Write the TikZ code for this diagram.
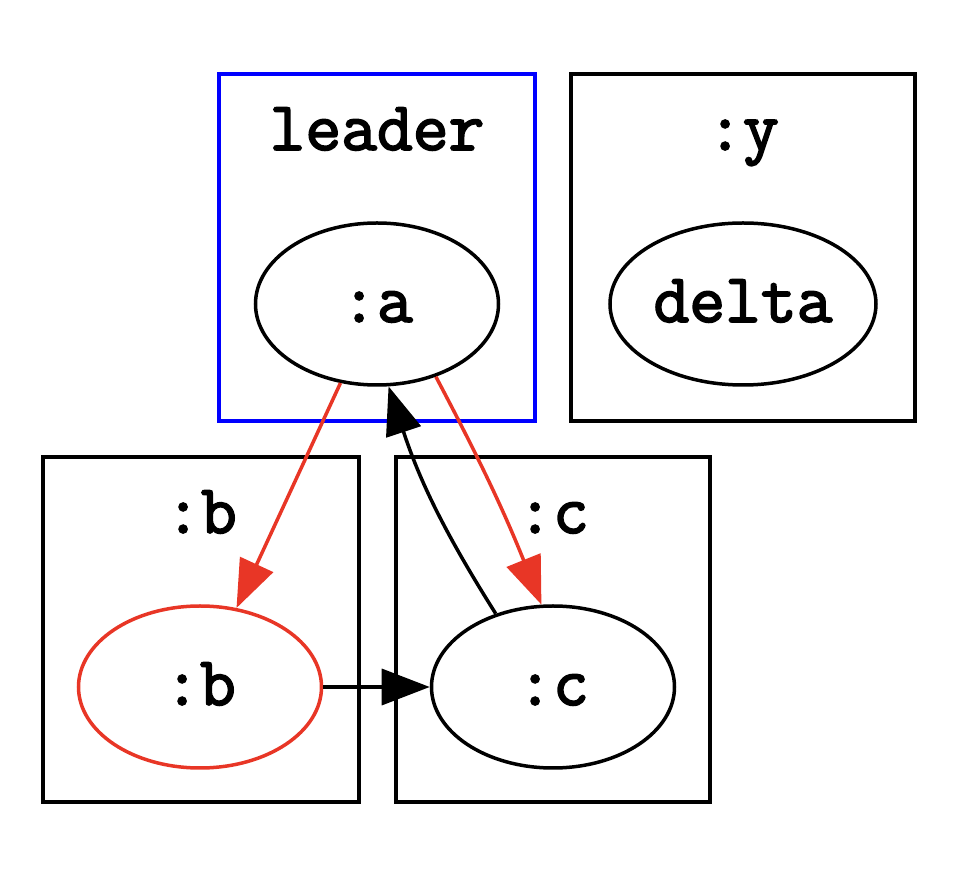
\documentclass[tikz,border=0pt]{standalone}
\usepackage{fontspec}
\newfontfamily\dotfont{Latin Modern Mono}[FakeBold=2.5]
\usetikzlibrary{shapes.geometric,arrows.meta}
\definecolor{edgered}{RGB}{232,54,38}

\begin{document}
\begin{tikzpicture}[x=0.2pt,y=-0.2pt,line width=0.7pt,
    font=\dotfont\fontsize{13.9}{16}\selectfont,
    every node/.style={text height=8pt,text depth=0.8pt},
    ell/.style={ellipse,draw,inner sep=0pt,minimum width=48.6pt,minimum height=32.4pt},
    lbl/.style={anchor=base},
    >={Triangle[length=9.6pt,width=7.2pt]}]
    \useasboundingbox (0,0) rectangle (962,878);
    \draw[blue] (219,74) rectangle (535,421);
    \draw (571,74) rectangle (915,421);
    \draw (43,457) rectangle (359,802);
    \draw (396,457) rectangle (710,802);
    \node[lbl] (leaderlbl) at (377,150) {leader};
    \node[lbl] (ylbl) at (743,150) {:y};
    \node[lbl] (blbl) at (201,533) {:b};
    \node[lbl] (clbl) at (553,533) {:c};
    \node[ell] (a) at (377,304) {:a};
    \node[ell,minimum width=53.2pt] (delta) at (743,304) {delta};
    \node[ell,draw=edgered] (b) at (200,687) {:b};
    \node[ell] (c) at (553,687) {:c};
    \draw[->,edgered] (a) -- (b);
    \draw[->,edgered] (a.-51) to[bend left=3] (c.98);
    \draw[->] (c.128) to[bend left=7] (a.-82);
    \draw[->] (b) -- (c);
  \end{tikzpicture}
\end{document}
